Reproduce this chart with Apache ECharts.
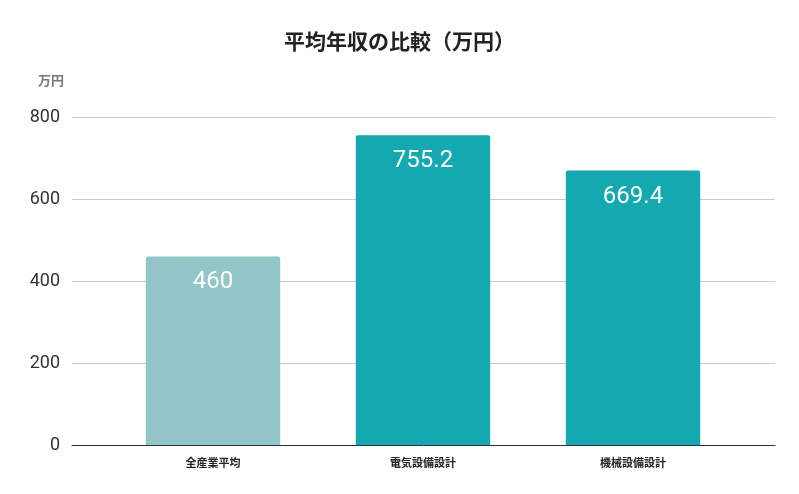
<!DOCTYPE html>
<html><head><meta charset="utf-8">
<script src="https://cdn.jsdelivr.net/npm/echarts@6/dist/echarts.min.js"></script>
<style>html,body{margin:0;padding:0;background:#fff}#c{width:799px;height:494px}</style>
</head><body><div id="c"></div>
<script>
var categories = ["全産業平均", "電気設備設計", "機械設備設計"];
var values = [460, 755.2, 669.4];
var barColors = ["#93C6C9", "#14A8B0", "#14A8B0"];
var yTicks = { min: 0, max: 800, interval: 200 };

var chart = echarts.init(document.getElementById("c"));
chart.setOption({
  title: {
    text: "平均年収の比較（万円）", left: "center", top: 26,
    textStyle: { fontFamily: "Noto Sans CJK JP", fontSize: 21, fontWeight: "bold", color: "#222" }
  },
  grid: [
    { left: 72, right: 24, top: 117, bottom: 49 },
    { left: 108, right: 61, top: 117, bottom: 49 }
  ],
  xAxis: [
    { gridIndex: 0, type: "category", data: [""], axisLine: { lineStyle: { color: "#333" } },
      axisTick: { show: false }, axisLabel: { show: false } },
    { gridIndex: 1, type: "category", data: categories,
      axisLine: { show: false }, axisTick: { show: false },
      axisLabel: { fontFamily: "Noto Sans CJK JP", fontSize: 11, fontWeight: "bold", color: "#222", margin: 12 } }
  ],
  yAxis: [
    { gridIndex: 0, type: "value", min: yTicks.min, max: yTicks.max, interval: yTicks.interval,
      name: "万円", nameLocation: "end", nameGap: 30,
      nameTextStyle: { fontFamily: "Noto Sans CJK JP", fontSize: 13, fontWeight: "bold", color: "#777", align: "right", padding: [0, 8, 0, 0] },
      axisLabel: { fontFamily: "Roboto", fontSize: 18, color: "#333", margin: 12 },
      splitLine: { lineStyle: { color: "#ccc" } } },
    { gridIndex: 1, type: "value", min: yTicks.min, max: yTicks.max, interval: yTicks.interval,
      axisLabel: { show: false }, splitLine: { show: false }, axisLine: { show: false } }
  ],
  series: [{
    type: "bar", xAxisIndex: 1, yAxisIndex: 1, barWidth: "64%",
    data: values.map(function (v, i) { return { value: v, itemStyle: { color: barColors[i], borderRadius: [2, 2, 0, 0] } }; }),
    label: { show: true, position: "insideTop", distance: 14, color: "#fff", fontFamily: "Roboto", fontSize: 24 }
  }]
});
</script></body></html>
